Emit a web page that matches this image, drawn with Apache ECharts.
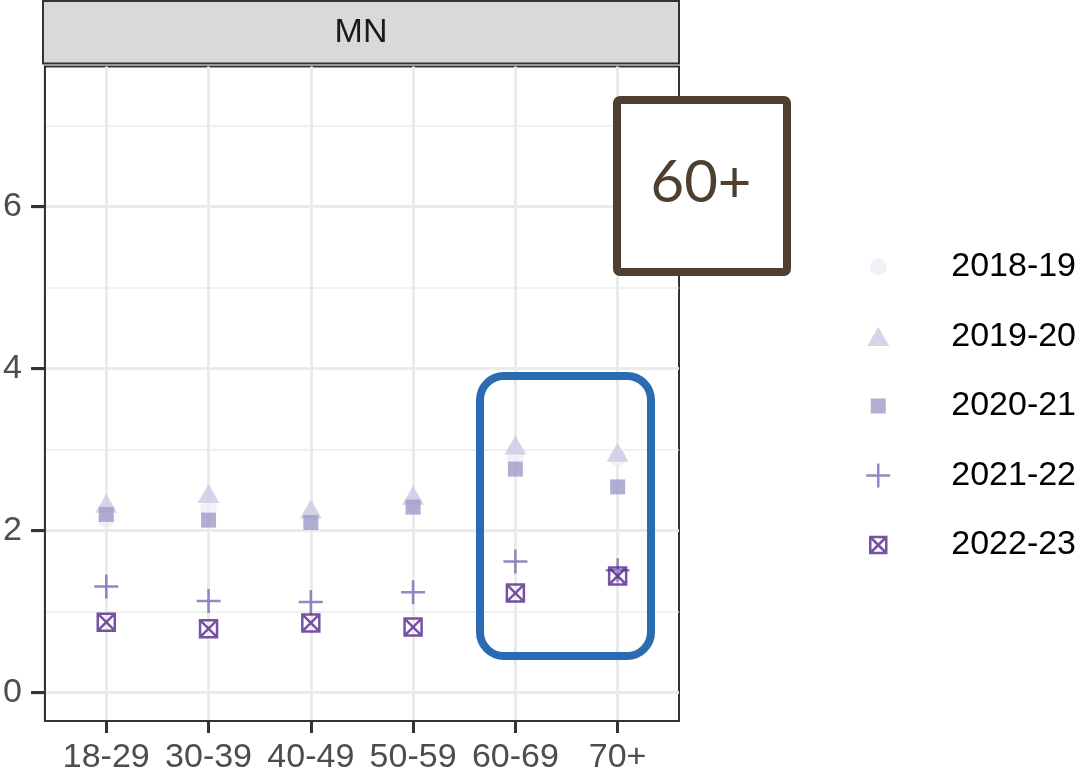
<!DOCTYPE html>
<html>
<head>
<meta charset="utf-8">
<script src="https://cdn.jsdelivr.net/npm/echarts@6/dist/echarts.min.js"></script>
<style>
  html, body { margin: 0; padding: 0; background: #ffffff; }
  #chart { width: 1089px; height: 779px; }
</style>
</head>
<body>
<div id="chart"></div>
<script>
// ---- data ----
const categories = ['18-29', '30-39', '40-49', '50-59', '60-69', '70+'];
const seriesNames = ['2018-19', '2019-20', '2020-21', '2021-22', '2022-23'];
const values2018_19 = [2.14, 2.27, 2.15, 2.33, 2.92, 2.90];
const values2019_20 = [2.30, 2.42, 2.23, 2.40, 3.02, 2.93];
const values2020_21 = [2.20, 2.13, 2.10, 2.29, 2.76, 2.54];
const values2021_22 = [1.31, 1.13, 1.12, 1.24, 1.62, 1.51];
const values2022_23 = [0.87, 0.79, 0.86, 0.81, 1.23, 1.44];
const yTicks = [0, 2, 4, 6];
const yMinorTicks = [1, 3, 5, 7];
const facetLabel = 'MN';
const annotationText = '60+';

// ---- styling ----
const FONT = 'Liberation Sans, Arial, sans-serif';
const colors = ['#efedf5', '#cbc9e2', '#9e9ac8', '#756bb1', '#54278f'];
const allValues = [values2018_19, values2019_20, values2020_21, values2021_22, values2022_23];
const xPos = categories.map((c, i) => i + 1);

const plusPath = 'path://M0,12H24M12,0V24';
const boxXPath = 'path://M0,0h16v16h-16ZM0,0L16,16M16,0L0,16';

const seriesSymbols = [
  { symbol: 'circle', symbolSize: 17, symbolOffset: [0, 0], itemStyle: { color: colors[0] } },
  { symbol: 'triangle', symbolSize: [22, 19], symbolOffset: [0, -3], itemStyle: { color: colors[1] } },
  { symbol: 'rect', symbolSize: 15, symbolOffset: [0, 0], itemStyle: { color: colors[2] } },
  { symbol: plusPath, symbolSize: 24, symbolOffset: [0, 0], itemStyle: { color: colors[3], borderColor: colors[3], borderWidth: 2.5 } },
  { symbol: boxXPath, symbolSize: 17, symbolOffset: [0, 0], itemStyle: { color: 'rgba(0,0,0,0)', borderColor: colors[4], borderWidth: 2.5 } }
];

const legendIcons = [
  'path://M0,0M24,24M20.5,12A8.5,8.5,0,1,1,3.5,12A8.5,8.5,0,1,1,20.5,12Z',
  'path://M0,0M24,24M12,2.5L23,21.5L1,21.5Z',
  'path://M0,0M24,24M4.5,4.5h15v15h-15Z',
  'path://M0,12H24M12,0V24',
  'path://M0,0M24,24M4,4h16v16h-16ZM4,4L20,20M20,4L4,20'
];

const series = seriesNames.map((name, k) => ({
  name: name,
  type: 'scatter',
  xAxisIndex: 0,
  yAxisIndex: 0,
  symbol: seriesSymbols[k].symbol,
  symbolSize: seriesSymbols[k].symbolSize,
  symbolOffset: seriesSymbols[k].symbolOffset,
  itemStyle: seriesSymbols[k].itemStyle,
  emphasis: { disabled: true },
  z: 3 + k,
  data: allValues[k].map((v, i) => [xPos[i], v])
}));

const chart = echarts.init(document.getElementById('chart'), null, { renderer: 'canvas' });

const gridLeft = 43, gridRight = 679, gridTop = 66.5, gridBottom = 721;

const baseGraphics = [
  {
    type: 'rect', z: 10,
    shape: { x: gridLeft, y: 1, width: gridRight - gridLeft, height: 62.5 },
    style: { fill: '#d9d9d9', stroke: '#333333', lineWidth: 2 }
  },
  {
    type: 'text', z: 11,
    x: (gridLeft + gridRight) / 2, y: 32.5,
    style: { text: facetLabel, fill: '#1a1a1a', font: '34px ' + FONT, align: 'center', verticalAlign: 'middle' }
  },
  {
    type: 'rect', z: 20,
    shape: { x: 480, y: 376, width: 171, height: 280, r: 24 },
    style: { fill: 'none', stroke: '#2b6bb1', lineWidth: 8 }
  },
  {
    type: 'rect', z: 20,
    shape: { x: 617, y: 100, width: 170, height: 172, r: 3 },
    style: { fill: '#ffffff', stroke: '#4e3f30', lineWidth: 8 }
  },
  {
    type: 'text', z: 21,
    x: 701, y: 183,
    style: { text: annotationText, fill: '#4e3f30', font: '58px Lato, "Open Sans", sans-serif', align: 'center', verticalAlign: 'middle' }
  }
];

chart.setOption({
  animation: false,
  backgroundColor: '#ffffff',
  textStyle: { fontFamily: FONT },
  grid: {
    left: gridLeft, top: gridTop, width: gridRight - gridLeft, height: gridBottom - gridTop,
    show: true, borderColor: '#333333', borderWidth: 2, backgroundColor: '#ffffff', z: 0
  },
  xAxis: {
    type: 'value', min: 0.4, max: 6.6,
    axisLine: { show: true, onZero: false, lineStyle: { color: '#333333', width: 2 } },
    axisTick: { show: true, customValues: xPos, length: 12, lineStyle: { color: '#333333', width: 3 } },
    axisLabel: {
      show: true, customValues: xPos, margin: 20,
      formatter: (v) => categories[Math.round(v) - 1],
      color: '#4d4d4d', fontSize: 34, fontFamily: FONT
    },
    splitLine: { show: true, lineStyle: { color: '#ebebeb', width: 3 } }
  },
  yAxis: [
    {
      type: 'value', min: -0.35, max: 7.73,
      axisLine: { show: true, onZero: false, lineStyle: { color: '#333333', width: 2 } },
      axisTick: { show: true, customValues: yTicks, length: 12, lineStyle: { color: '#333333', width: 3 } },
      axisLabel: { show: true, customValues: yTicks, margin: 23, color: '#4d4d4d', fontSize: 34, fontFamily: FONT },
      splitLine: { show: true, lineStyle: { color: '#ebebeb', width: 3 } }
    },
    {
      type: 'value', min: -0.35, max: 7.73, position: 'right',
      axisLine: { show: false, onZero: false },
      axisTick: { show: false, customValues: yMinorTicks },
      axisLabel: { show: false, customValues: yMinorTicks },
      splitLine: { show: true, lineStyle: { color: '#ebebeb', width: 1.5 } }
    }
  ],
  legend: {
    orient: 'vertical',
    left: 860, top: 245,
    itemWidth: 66, itemHeight: 24, itemGap: 35.5,
    symbolKeepAspect: true,
    selectedMode: false,
    textStyle: { color: '#000000', fontSize: 34, fontFamily: FONT, lineHeight: 24, padding: [0, 0, 0, 35] },
    data: seriesNames.map((name, k) => ({
      name: name,
      icon: legendIcons[k],
      itemStyle: k === 4
        ? { color: 'rgba(0,0,0,0)', borderColor: colors[4], borderWidth: 2.5 }
        : (k === 3 ? { color: colors[3], borderColor: colors[3], borderWidth: 2.5 } : { color: colors[k], borderWidth: 0 })
    }))
  },
  series: series,
  graphic: baseGraphics
});

// y-axis tick marks placed through the axis scale
const tickGraphics = yTicks.map((v) => {
  const py = chart.convertToPixel({ yAxisIndex: 0 }, v);
  return {
    type: 'line', z: 5,
    shape: { x1: gridLeft - 12, y1: py, x2: gridLeft, y2: py },
    style: { stroke: '#333333', lineWidth: 3 }
  };
});
chart.setOption({ graphic: baseGraphics.concat(tickGraphics) });
</script>
</body>
</html>
